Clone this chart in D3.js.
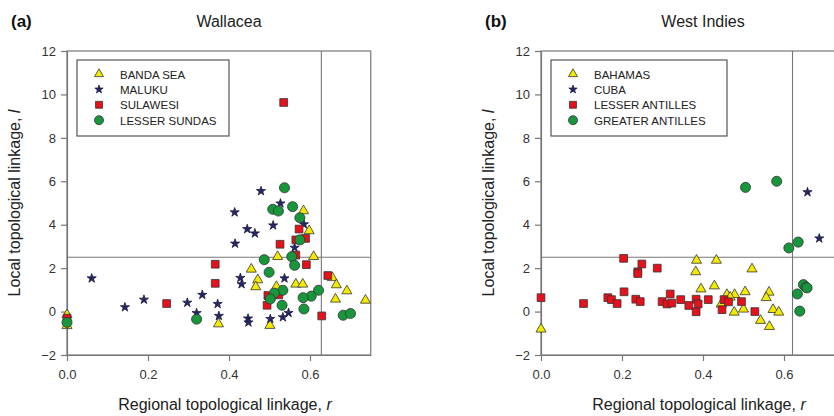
<!DOCTYPE html>
<html>
<head>
<meta charset="UTF-8">
<title>Topological linkage</title>
<script src="https://d3js.org/d3.v7.min.js"></script>
<style>
 body { margin: 0; background: #fff; }
 text { font-family: "Liberation Sans", Arial, sans-serif; }
</style>
</head>
<body>
<script>
// values: [r, l]
var bandaSea = [[0,-0.15],[0,-0.65],[0.374,-0.57],[0.584,4.64],[0.598,3.72],[0.52,2.53],[0.609,2.53],[0.455,1.95],
  [0.655,1.56],[0.471,1.46],[0.665,1.23],[0.466,1.14],[0.517,1.15],[0.565,1.26],[0.582,1.26],[0.691,0.95],
  [0.663,0.57],[0.737,0.52],[0.501,-0.64]];
var maluku = [[0.061,1.53],[0.143,0.2],[0.19,0.55],[0.297,0.41],[0.334,0.77],[0.32,-0.07],[0.372,0.35],[0.375,-0.2],
  [0.479,5.55],[0.527,4.98],[0.414,4.57],[0.585,4.02],[0.509,3.97],[0.445,3.8],[0.464,3.6],[0.415,3.13],
  [0.562,2.94],[0.428,1.55],[0.431,1.26],[0.537,1.53],[0.547,-0.06],[0.533,-0.26],[0.447,-0.32],[0.448,-0.5],[0.502,-0.34]];
var sulawesi = [[0,-0.3],[0.246,0.37],[0.366,2.18],[0.366,1.3],[0.535,9.63],[0.573,3.8],[0.565,3.3],[0.589,3.37],
  [0.526,3.1],[0.565,2.6],[0.591,2.16],[0.644,1.66],[0.496,0.74],[0.523,0.77],[0.494,0.29],[0.629,-0.2]];
var lesserSundas = [[0,-0.5],[0.32,-0.35],[0.537,5.7],[0.557,4.83],[0.508,4.71],[0.522,4.63],[0.575,4.32],[0.575,3.3],
  [0.555,2.53],[0.487,2.39],[0.562,2.13],[0.499,1.81],[0.533,0.98],[0.621,0.98],[0.512,0.85],[0.603,0.71],
  [0.583,0.64],[0.502,0.58],[0.531,0.29],[0.585,0.12],[0.682,-0.17],[0.7,-0.09]];

var bahamas = [[0,-0.81],[0.384,2.36],[0.433,2.36],[0.382,1.83],[0.521,1.96],[0.395,1.04],[0.428,1.18],[0.459,0.78],
  [0.478,0.78],[0.504,0.91],[0.563,0.89],[0.556,0.64],[0.445,0.34],[0.467,0.66],[0.477,-0.03],[0.5,0.11],
  [0.573,0.09],[0.587,-0.03],[0.542,-0.41],[0.564,-0.69]];
var cuba = [[0.658,5.5],[0.687,3.37]];
var lesserAntilles = [[0,0.64],[0.105,0.37],[0.165,0.64],[0.174,0.55],[0.188,0.37],[0.204,2.45],[0.205,0.91],
  [0.249,2.19],[0.239,1.83],[0.239,1.75],[0.287,2.0],[0.234,0.57],[0.245,0.46],[0.319,0.81],[0.299,0.46],
  [0.311,0.35],[0.323,0.39],[0.345,0.55],[0.365,0.28],[0.383,0.57],[0.388,0.35],[0.383,-0.01],[0.413,0.55],
  [0.452,0.55],[0.463,0.45],[0.447,0.09],[0.495,0.46],[0.528,0.0]];
var greaterAntilles = [[0.505,5.72],[0.582,6.0],[0.635,3.2],[0.612,2.93],[0.648,1.24],[0.654,1.12],[0.657,1.09],
  [0.633,0.81],[0.639,0.02]];

var yTicks = [-2, 0, 2, 4, 6, 8, 10, 12];
var xTicks = [0, 0.2, 0.4, 0.6];
var rCut = [0.628, 0.621];
var lCut = 2.5;

var panelA = {tag: "(a)", title: "Wallacea", left: 67, names: ["BANDA SEA", "MALUKU", "SULAWESI", "LESSER SUNDAS"],
  series: [bandaSea, maluku, sulawesi, lesserSundas], legendW: 152, rCut: rCut[0]};
var panelB = {tag: "(b)", title: "West Indies", left: 541, names: ["BAHAMAS", "CUBA", "LESSER ANTILLES", "GREATER ANTILLES"],
  series: [bahamas, cuba, lesserAntilles, greaterAntilles], legendW: 176, rCut: rCut[1]};

var shapes = [d3.symbolTriangle, d3.symbolStar, d3.symbolSquare, d3.symbolCircle];
var sizes = [44, 26, 60, 80];
var fills = ["#f4ea00", "#262668", "#e8101a", "#17963c"];

var svg = d3.select("body").append("svg").attr("width", 834).attr("height", 416);

function drawPanel(p) {
  var top = 51, bottom = 355, w = 405 * 0.75;
  var x = d3.scaleLinear().domain([0, 0.75]).range([p.left, p.left + w]);
  var y = d3.scaleLinear().domain([-2, 12]).range([bottom, top]);
  var g = svg.append("g");

  g.append("text").attr("x", p.left - 56).attr("y", 27).attr("font-size", 17).attr("font-weight", "bold")
    .attr("fill", "#111").text(p.tag);
  g.append("text").attr("x", p.left + 162).attr("y", 27).attr("font-size", 16).attr("text-anchor", "middle")
    .attr("fill", "#222").text(p.title);

  // frame
  g.append("rect").attr("x", p.left).attr("y", top).attr("width", w).attr("height", bottom - top)
    .attr("fill", "none").attr("stroke", "#777").attr("stroke-width", 1.2);

  // reference lines
  g.append("line").attr("x1", x(p.rCut)).attr("x2", x(p.rCut)).attr("y1", top).attr("y2", bottom)
    .attr("stroke", "#777").attr("stroke-width", 1.1);
  g.append("line").attr("x1", p.left).attr("x2", p.left + w).attr("y1", y(lCut)).attr("y2", y(lCut))
    .attr("stroke", "#777").attr("stroke-width", 1.1);

  var ya = g.append("g").attr("transform", "translate(" + p.left + ",0)")
    .call(d3.axisLeft(y).tickValues(yTicks).tickSize(6).tickSizeOuter(0).tickPadding(5));
  var xa = g.append("g").attr("transform", "translate(0," + bottom + ")")
    .call(d3.axisBottom(x).tickValues(xTicks).tickFormat(d3.format(".1f")).tickSize(6).tickSizeOuter(0).tickPadding(9));
  [ya, xa].forEach(function (a) {
    a.select(".domain").attr("stroke", "#777").attr("stroke-width", 1.2);
    a.selectAll(".tick line").attr("stroke", "#777").attr("stroke-width", 1.2);
    a.selectAll(".tick text").attr("font-size", 13).attr("fill", "#333")
      .style("font-family", '"Liberation Sans", Arial, sans-serif');
  });

  var xl = g.append("text").attr("x", p.left + 158).attr("y", 410).attr("text-anchor", "middle")
    .attr("font-size", 16).attr("fill", "#222");
  xl.append("tspan").text("Regional topological linkage, ");
  xl.append("tspan").attr("font-style", "italic").text("r");

  var yl = g.append("text").attr("transform", "translate(" + (p.left - 47) + "," + ((top + bottom) / 2) + ") rotate(-90)")
    .attr("text-anchor", "middle").attr("font-size", 16).attr("fill", "#222");
  yl.append("tspan").text("Local topological linkage, ");
  yl.append("tspan").attr("font-style", "italic").text("l");

  // points
  p.series.forEach(function (data, i) {
    g.append("g").selectAll("path").data(data).enter().append("path")
      .attr("transform", function (d) { return "translate(" + x(d[0]) + "," + y(d[1]) + ")"; })
      .attr("d", d3.symbol().type(shapes[i]).size(sizes[i]))
      .attr("fill", fills[i]).attr("stroke", i == 1 ? "#1a1a40" : "#333").attr("stroke-width", 0.8);
  });

  // legend
  var lg = g.append("g").attr("transform", "translate(" + (p.left + 10) + "," + (top + 9) + ")");
  lg.append("rect").attr("width", p.legendW).attr("height", 76).attr("fill", "#fff")
    .attr("stroke", "#555").attr("stroke-width", 1.2);
  p.names.forEach(function (n, i) {
    var ry = 14 + i * 15.4;
    lg.append("path").attr("transform", "translate(22," + ry + ")")
      .attr("d", d3.symbol().type(shapes[i]).size(sizes[i] * 0.8))
      .attr("fill", fills[i]).attr("stroke", i == 1 ? "#1a1a40" : "#333").attr("stroke-width", 0.8);
    lg.append("text").attr("x", 43).attr("y", ry + 4.5).attr("font-size", 11.5).attr("fill", "#222").text(n);
  });
}

drawPanel(panelA);
drawPanel(panelB);
</script>
</body>
</html>
